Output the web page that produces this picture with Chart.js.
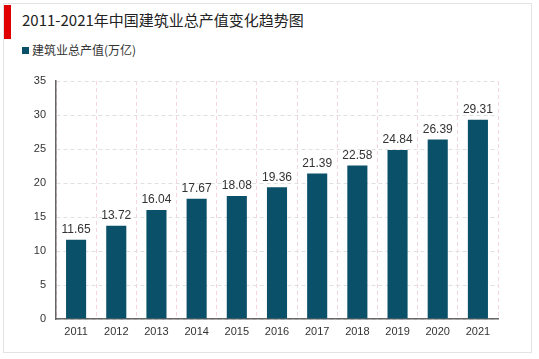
<!DOCTYPE html>
<html>
<head>
<meta charset="utf-8">
<script src="https://cdn.jsdelivr.net/npm/chart.js@4"></script>
<style>
  html, body { margin: 0; padding: 0; background: #fff; }
  #wrap { position: relative; width: 539px; height: 359px; overflow: hidden; }
  #frame { position: absolute; left: 3px; top: 3px; width: 529px; height: 350px; border: 1px solid #e3e3e3; box-sizing: border-box; }
  #redbar { position: absolute; left: 4px; top: 5px; width: 7px; height: 34px; background: #e00000; }
  #title { position: absolute; left: 22px; top: 9px; font: 15px "Noto Sans CJK SC", sans-serif; color: #222; white-space: nowrap; }
  #legend { position: absolute; left: 22px; top: 41px; font: 12px "Noto Sans CJK SC", sans-serif; color: #333; white-space: nowrap; }
  #legend span { display: inline-block; width: 7px; height: 7px; background: #0b5069; margin-right: 3px; vertical-align: 1px; }
  canvas { position: absolute; left: 0; top: 0; }
</style>
</head>
<body>
<div id="wrap">
  <div id="frame"></div>
  <div id="redbar"></div>
  <div id="title">2011-2021年中国建筑业总产值变化趋势图</div>
  <div id="legend"><span></span>建筑业总产值(万亿)</div>
  <canvas id="chart" width="539" height="359"></canvas>
</div>
<script>
// === DATA ===
const years = ['2011', '2012', '2013', '2014', '2015', '2016', '2017', '2018', '2019', '2020', '2021'];
const output = [11.65, 13.72, 16.04, 17.67, 18.08, 19.36, 21.39, 22.58, 24.84, 26.39, 29.31];
const seriesName = '建筑业总产值(万亿)';

// labels above bars
const valueLabels = {
    id: 'valueLabels',
    afterDatasetsDraw(chart) {
        const ctx = chart.ctx;
        const meta = chart.getDatasetMeta(0);
        ctx.save();
        ctx.font = '12px "Liberation Sans", Arial, sans-serif';
        ctx.fillStyle = '#333';
        ctx.textAlign = 'center';
        ctx.textBaseline = 'bottom';
        meta.data.forEach((bar, i) => {
            ctx.fillText(output[i].toFixed(2), bar.x, bar.y - 4);
        });
        ctx.restore();
    }
};

new Chart(document.getElementById('chart'), {
    type: 'bar',
    data: {
        labels: years,
        datasets: [{
            label: seriesName,
            data: output,
            backgroundColor: '#0b5069',
            categoryPercentage: 0.5,
            barPercentage: 1
        }]
    },
    options: {
        responsive: false,
        animation: false,
        layout: { padding: { left: 0, top: 81, right: 41, bottom: 0 } },
        plugins: { legend: { display: false }, tooltip: { enabled: false } },
        scales: {
            x: {
                offset: true,
                grid: { offset: true, color: '#f3d6df', drawTicks: false },
                border: { color: '#666', width: 1.5, dash: [4, 3] },
                ticks: { color: '#333', font: { family: '"Liberation Sans", Arial', size: 11 }, padding: 6 },
                afterFit(scale) { scale.height = 40; }
            },
            y: {
                min: 0, max: 35,
                grid: { color: '#e0e0e0', drawTicks: false },
                border: { color: '#666', width: 1.5, dash: [4, 3] },
                ticks: { stepSize: 5, color: '#333', font: { family: '"Liberation Sans", Arial', size: 11 }, padding: 10 },
                afterFit(scale) { scale.width = 56; }
            }
        }
    },
    plugins: [valueLabels]
});
</script>
</body>
</html>
